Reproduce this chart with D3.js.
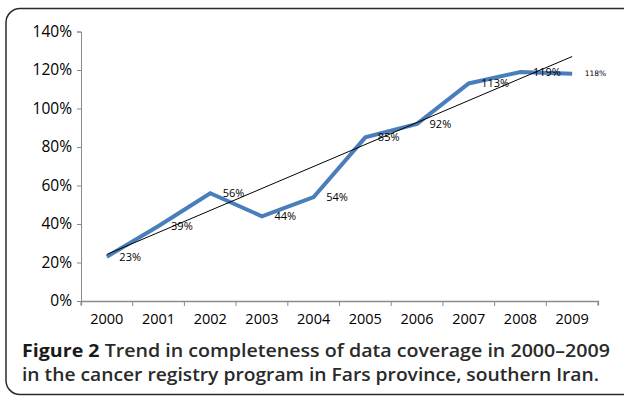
<!DOCTYPE html>
<html><head><meta charset="utf-8">
<script src="https://cdn.jsdelivr.net/npm/d3@7"></script>
<style>body{margin:0;background:#fff}svg{display:block}</style>
</head><body>
<svg id="c" width="624" height="397"></svg>
<script>
const years = ["2000","2001","2002","2003","2004","2005","2006","2007","2008","2009"];
const coverage = [23,39,56,44,54,85,92,113,119,118];
const labels = ["23%","39%","56%","44%","54%","85%","92%","113%","119%","118%"];
const trendEnds = [24.2,127];
const yTicks = [0,20,40,60,80,100,120,140];
const captionBold = "Figure 2";
const captionLine1 = " Trend in completeness of data coverage in 2000\u20132009";
const captionLine2 = "in the cancer registry program in Fars province, southern Iran.";

const svg = d3.select("#c");
svg.append("rect").attr("x",6).attr("y",8.5).attr("width",660).attr("height",386)
  .attr("rx",14).attr("fill","none").attr("stroke","#2b2b2b").attr("stroke-width",1.5);

const x = d3.scaleBand().domain(years).range([81,598]).padding(0);
const y = d3.scaleLinear().domain([0,140]).range([301,31.5]);
const axisColor = "#8a8a8a";
const font = "'Open Sans', sans-serif";

// y axis
const ya = svg.append("g").attr("transform","translate(81,0)")
  .call(d3.axisLeft(y).tickValues(yTicks).tickFormat(d=>d+"%").tickSizeOuter(0).tickSize(4));
ya.select(".domain").attr("stroke",axisColor);
ya.selectAll(".tick line").attr("stroke",axisColor);
ya.selectAll("text").attr("font-family",font).attr("font-size",15.5).attr("fill","#000").attr("x",-9);

// x axis
const xa = svg.append("g").attr("transform","translate(0,301)")
  .call(d3.axisBottom(x).tickSizeOuter(0).tickSize(4));
xa.select(".domain").attr("stroke",axisColor).attr("stroke-width",1.3);
xa.selectAll(".tick").remove();
const edges = years.map(v=>x(v)).concat([x(years[years.length-1])+x.bandwidth()]);
xa.selectAll("line.tk").data(edges).enter().append("line")
  .attr("x1",d=>d).attr("x2",d=>d).attr("y1",0).attr("y2",5).attr("stroke",axisColor);
xa.selectAll("text.lb").data(years).enter().append("text")
  .attr("x",d=>x(d)+x.bandwidth()/2).attr("y",23).attr("text-anchor","middle")
  .attr("font-family",font).attr("font-size",14.5).attr("fill","#000").text(d=>d);

const cx = i => x(years[i]) + x.bandwidth()/2;

// data line
svg.append("path").datum(coverage)
  .attr("d", d3.line().x((d,i)=>cx(i)).y(d=>y(d)))
  .attr("fill","none").attr("stroke","#4a7ebb").attr("stroke-width",4).attr("stroke-linejoin","miter");

// trend line
svg.append("line").attr("x1",cx(0)).attr("y1",y(trendEnds[0]))
  .attr("x2",cx(years.length-1)).attr("y2",y(trendEnds[1]))
  .attr("stroke","#000").attr("stroke-width",1);

// data labels
svg.selectAll("text.dl").data(coverage).enter().append("text")
  .attr("x",(d,i)=>cx(i)+(i===9?12.5:12.5))
  .attr("y",(d,i)=>y(d)+(i===9?2.5:3.8))
  .attr("font-family",(d,i)=>i===9?"'DejaVu Sans', sans-serif":font)
  .attr("font-size",(d,i)=>i===9?7.5:11)
  .attr("fill","#000").text((d,i)=>labels[i]);

// caption
const cap = svg.append("text").attr("x",22).attr("y",356.5)
  .attr("font-family",font).attr("font-size",18.5).attr("fill","#2a2a2a");
cap.append("tspan").attr("font-weight",700).attr("fill","#1a1a1a").text(captionBold);
cap.append("tspan").attr("font-weight",600).text(captionLine1);
const cap2 = svg.append("text").attr("x",22).attr("y",380.5)
  .attr("font-family",font).attr("font-size",18.5).attr("font-weight",600).attr("fill","#2a2a2a").text(captionLine2);
// fit widths to the measured caption extents
const w1 = cap.node().getComputedTextLength();
cap.attr("textLength",588).attr("lengthAdjust","spacingAndGlyphs");
cap2.attr("textLength",577).attr("lengthAdjust","spacingAndGlyphs");
</script>
</body></html>
